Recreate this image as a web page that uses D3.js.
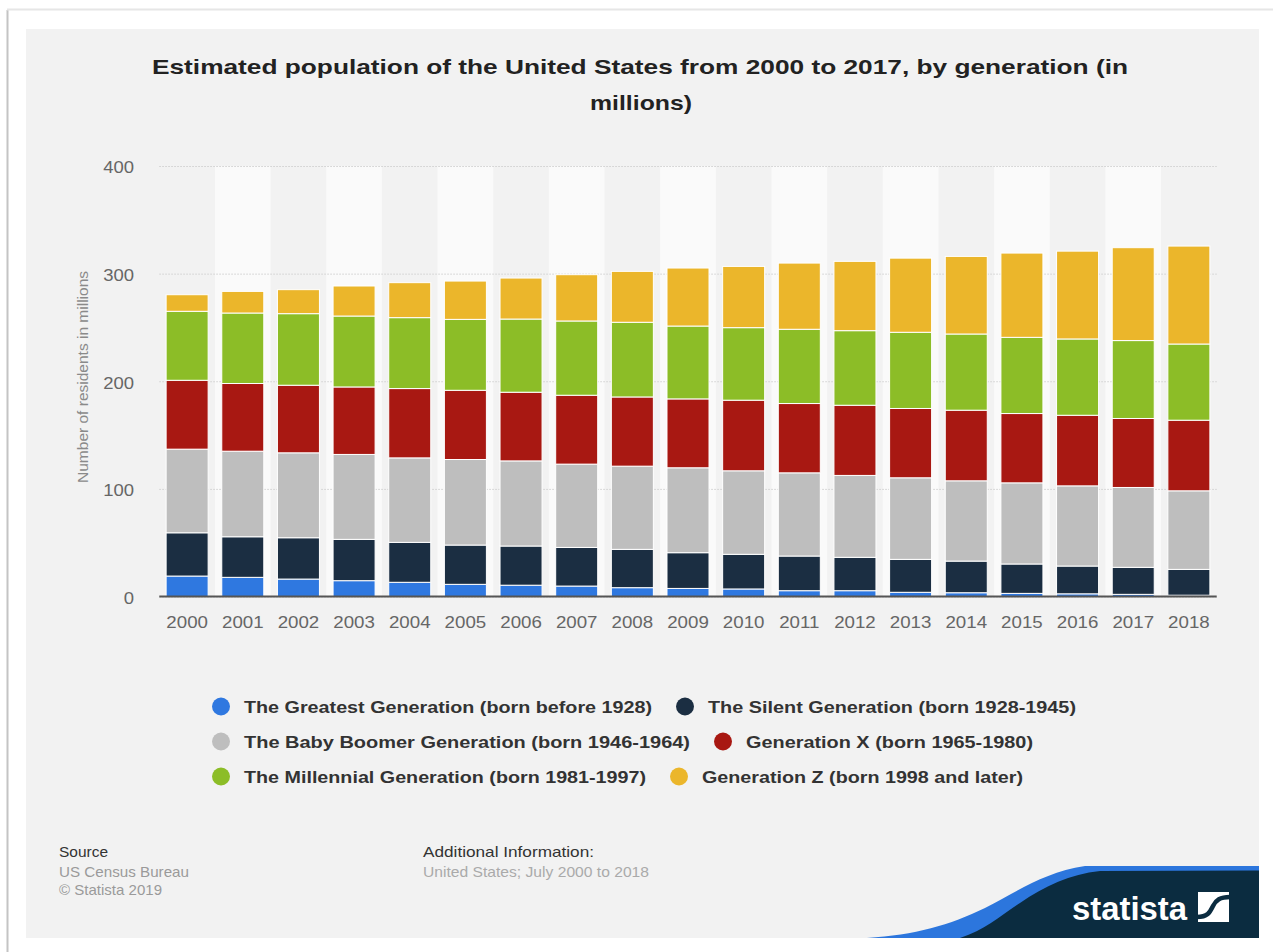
<!DOCTYPE html>
<html>
<head>
<meta charset="utf-8">
<script src="https://cdn.jsdelivr.net/npm/d3@7"></script>
<style>
  html, body { margin: 0; padding: 0; background: #ffffff; }
  svg { display: block; font-family: "Liberation Sans", Arial, Helvetica, sans-serif; }
</style>
</head>
<body>
<svg id="chart" width="1273" height="952"></svg>
<script>
// Years on the x axis
const years = ["2000","2001","2002","2003","2004","2005","2006","2007","2008","2009",
               "2010","2011","2012","2013","2014","2015","2016","2017","2018"];

// Population by generation, in millions
const greatest    = [19.0,17.8,16.2,14.7,13.2,11.3,10.5,9.7,8.2,7.5,7.0,5.4,5.4,3.9,3.5,2.9,2.5,2.0,1.2];
const silent      = [40.2,37.7,38.4,38.4,37.1,36.5,36.4,35.9,35.6,33.2,32.2,32.2,31.0,30.6,29.4,27.3,25.8,25.1,24.0];
const boomers     = [77.7,79.5,78.9,78.9,78.5,79.5,79.1,77.4,77.3,78.9,77.6,77.3,76.1,75.8,74.6,75.4,74.5,74.2,73.0];
const genX        = [64.0,62.9,62.8,62.7,64.4,64.3,63.8,64.0,64.3,64.0,65.6,64.4,65.2,64.4,65.6,64.4,65.6,64.1,65.6];
const millennials = [64.1,65.5,66.5,65.9,65.9,65.9,68.0,69.0,69.4,67.7,67.4,69.0,69.3,70.8,70.8,70.8,70.9,72.4,70.8];
const genZ        = [15.4,20.1,22.3,27.9,32.5,35.6,38.1,43.0,47.3,53.9,56.9,61.5,64.4,68.9,72.1,78.3,81.6,86.3,91.0];

const seriesNames = [
  "The Greatest Generation (born before 1928)",
  "The Silent Generation (born 1928-1945)",
  "The Baby Boomer Generation (born 1946-1964)",
  "Generation X (born 1965-1980)",
  "The Millennial Generation (born 1981-1997)",
  "Generation Z (born 1998 and later)"
];
const seriesColors = ["#2f78e0", "#1b2e42", "#bebebe", "#a81812", "#8cbd27", "#ebb62b"];
const yTicks = [0, 100, 200, 300, 400];

const seriesValues = [greatest, silent, boomers, genX, millennials, genZ];
const keys = seriesNames;
const rows = years.map((y, i) => {
  const r = { year: y };
  keys.forEach((k, j) => { r[k] = seriesValues[j][i]; });
  return r;
});

const svg = d3.select("#chart");

// Stretch a text element horizontally to a given width
function fitWidth(sel, w) {
  sel.attr("textLength", w).attr("lengthAdjust", "spacingAndGlyphs");
  return sel;
}
// Widen a text element by a factor of its natural width
function widen(sel, k) {
  sel.each(function () {
    const n = this.getComputedTextLength();
    d3.select(this).attr("textLength", n * k).attr("lengthAdjust", "spacingAndGlyphs");
  });
  return sel;
}

// Page frame and card
svg.append("rect").attr("x", 8).attr("y", 10).attr("width", 1265).attr("height", 942).attr("fill", "#ffffff");
svg.append("line").attr("x1", 7.5).attr("x2", 7.5).attr("y1", 10).attr("y2", 952)
  .attr("stroke", "#c4c4c4").attr("stroke-width", 2);
svg.append("line").attr("x1", 7).attr("x2", 1273).attr("y1", 9.5).attr("y2", 9.5)
  .attr("stroke", "#e6e6e6").attr("stroke-width", 2);
svg.append("rect").attr("x", 26).attr("y", 29).attr("width", 1233).attr("height", 909).attr("fill", "#f2f2f2");

// Title
const title = svg.append("text").attr("font-size", 21).attr("font-weight", "bold").attr("fill", "#222");
fitWidth(title.append("tspan").attr("x", 152).attr("y", 74)
  .text("Estimated population of the United States from 2000 to 2017, by generation (in"), 976);
fitWidth(title.append("tspan").attr("x", 590).attr("y", 110).text("millions)"), 102);

// Scales
const plotLeft = 159.3, plotRight = 1216.7, plotTop = 166, plotBottom = 596.5;
const x = d3.scaleBand().domain(years).range([plotLeft, plotRight])
  .paddingInner(0.245).paddingOuter(0.1225);
const y = d3.scaleLinear().domain([0, 400]).range([plotBottom, plotTop]);
const color = d3.scaleOrdinal().domain(keys).range(seriesColors);

// Alternating column bands
const cell = (plotRight - plotLeft) / years.length;
svg.append("g").selectAll("rect").data(years.filter((d, i) => i % 2 === 1)).join("rect")
  .attr("x", d => x(d) + x.bandwidth() / 2 - cell / 2)
  .attr("y", y(400))
  .attr("width", cell)
  .attr("height", y(0) - y(400))
  .attr("fill", "#fafafa");

// Gridlines
const yAxisGrid = d3.axisLeft(y).tickValues(yTicks).tickSize(-(plotRight - plotLeft)).tickFormat("");
const grid = svg.append("g").attr("transform", `translate(${plotLeft},0)`).call(yAxisGrid);
grid.select(".domain").remove();
grid.selectAll("line").attr("stroke", "#cfcfcf").attr("stroke-dasharray", "1.5,1.5").attr("stroke-width", 1);

// Stacked bars
const stacked = d3.stack().keys(keys)(rows);
svg.append("g").selectAll("g").data(stacked).join("g")
  .attr("fill", d => color(d.key))
  .selectAll("rect").data(d => d).join("rect")
  .attr("x", d => x(d.data.year))
  .attr("y", d => y(d[1]))
  .attr("width", x.bandwidth())
  .attr("height", d => Math.max(0, y(d[0]) - y(d[1])))
  .attr("stroke", "#ffffff")
  .attr("stroke-width", 1);

// Baseline
svg.append("line").attr("x1", plotLeft).attr("x2", plotRight)
  .attr("y1", y(0)).attr("y2", y(0)).attr("stroke", "#555").attr("stroke-width", 2);

// Y axis labels
const yAxis = d3.axisLeft(y).tickValues(yTicks).tickSize(0).tickPadding(0);
const yg = svg.append("g").attr("transform", `translate(134,1.5)`).call(yAxis);
yg.select(".domain").remove();
yg.selectAll("text").attr("font-size", 16.5).attr("fill", "#666")
  .attr("font-family", "'Liberation Sans', Arial, sans-serif");
widen(yg.selectAll("text"), 1.12);

// X axis labels
const xAxis = d3.axisBottom(x).tickSize(0).tickPadding(0);
const xg = svg.append("g").attr("transform", `translate(0,${y(0) + 19})`).call(xAxis);
xg.select(".domain").remove();
xg.selectAll("text").attr("font-size", 17).attr("fill", "#666")
  .attr("font-family", "'Liberation Sans', Arial, sans-serif");
widen(xg.selectAll("text"), 1.1);

// Y axis title
fitWidth(svg.append("text").attr("transform", "translate(88,377) rotate(-90)")
  .attr("text-anchor", "middle").attr("font-size", 15).attr("fill", "#8a8a8a")
  .text("Number of residents in millions"), 212);

// Legend: items flow left to right and wrap into rows
const legendRows = [[0, 1], [2, 3], [4, 5]];
const legendWidths = [408, 368, 446, 287, 402, 321];
const legendY = [706.5, 741.5, 776.5];
const legend = svg.append("g");
legendRows.forEach((row, ri) => {
  let cx = 221;
  row.forEach(si => {
    legend.append("circle").attr("cx", cx).attr("cy", legendY[ri]).attr("r", 9)
      .attr("fill", seriesColors[si]);
    fitWidth(legend.append("text").attr("x", cx + 23).attr("y", legendY[ri] + 6)
      .attr("font-size", 17).attr("font-weight", "bold").attr("fill", "#333")
      .text(seriesNames[si]), legendWidths[si]);
    cx = cx + 23 + legendWidths[si] + 33;
  });
});

// Footer
fitWidth(svg.append("text").attr("x", 59).attr("y", 857).attr("font-size", 15).attr("fill", "#333").text("Source"), 49);
fitWidth(svg.append("text").attr("x", 59).attr("y", 876.5).attr("font-size", 15).attr("fill", "#9a9a9a").text("US Census Bureau"), 130);
fitWidth(svg.append("text").attr("x", 59).attr("y", 895).attr("font-size", 15).attr("fill", "#9a9a9a").text("© Statista 2019"), 103);
fitWidth(svg.append("text").attr("x", 423).attr("y", 857).attr("font-size", 15).attr("fill", "#333").text("Additional Information:"), 171);
fitWidth(svg.append("text").attr("x", 423).attr("y", 876.5).attr("font-size", 14.5).attr("fill", "#aaa").text("United States; July 2000 to 2018"), 226);

// Statista logo
svg.append("path")
  .attr("d", "M867,938 C915,935 950,925 985,908 C1020,890 1045,872 1085,866 L1259,866 L1259,938 Z")
  .attr("fill", "#2c76dd");
svg.append("path")
  .attr("d", "M960,938 C985,930 1000,916 1020,903 C1045,886 1070,874 1100,871 L1259,870.5 L1259,938 Z")
  .attr("fill", "#0b2c40");
svg.append("text").attr("x", 1072).attr("y", 920).attr("font-size", 33).attr("font-weight", "bold")
  .attr("font-family", "'Liberation Sans Narrow', 'Liberation Sans', Arial, sans-serif")
  .attr("fill", "#ffffff").attr("textLength", 115).attr("lengthAdjust", "spacingAndGlyphs").text("statista");
svg.append("rect").attr("x", 1198).attr("y", 892).attr("width", 31).attr("height", 30).attr("fill", "#ffffff");
svg.append("path").attr("d", "M1197,917 C1208,917 1210,912 1213,906 C1216,900 1220,897 1230,897")
  .attr("fill", "none").attr("stroke", "#0b2c40").attr("stroke-width", 4.5);
</script>
</body>
</html>
